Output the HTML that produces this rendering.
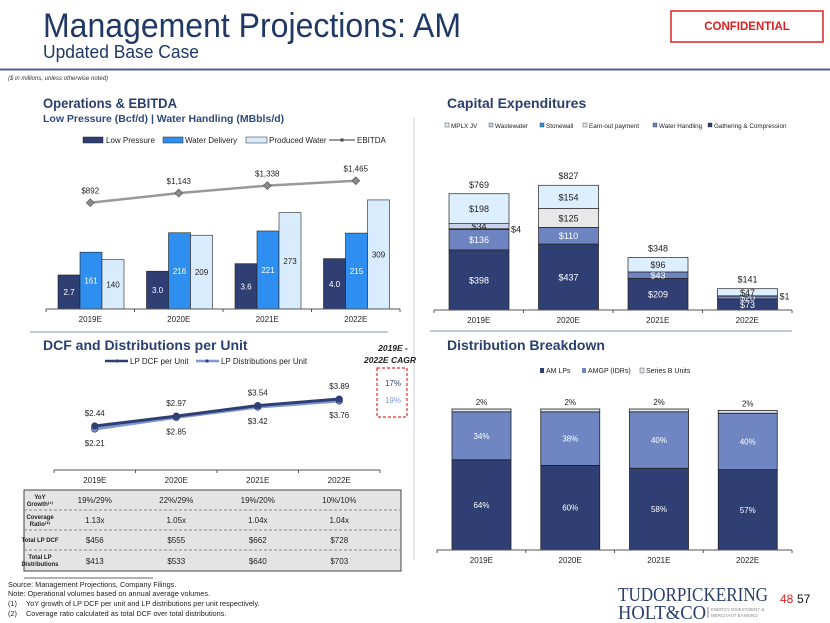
<!DOCTYPE html>
<html><head><meta charset="utf-8">
<style>
html,body{margin:0;padding:0;background:#fff;}
svg{display:block;font-family:"Liberation Sans","DejaVu Sans",sans-serif;}
</style></head>
<body>
<svg id="s" width="830" height="623" viewBox="0 0 830 623" xmlns="http://www.w3.org/2000/svg">
<text x="43" y="37" font-size="34" fill="#1f3864" textLength="418" lengthAdjust="spacingAndGlyphs">Management Projections: AM</text>
<text x="43" y="58" font-size="18" fill="#1f3864" textLength="156" lengthAdjust="spacingAndGlyphs">Updated Base Case</text>
<rect x="671" y="11" width="152" height="31" fill="#fff" stroke="#e02020" stroke-width="1.5"/>
<text x="747" y="30" font-size="11.5" font-weight="bold" fill="#e02020" text-anchor="middle">CONFIDENTIAL</text>
<line x1="0" y1="69.5" x2="830" y2="69.5" stroke="#4f5f8f" stroke-width="2"/>
<text x="8" y="80" font-size="6" font-style="italic" fill="#333">($ in millions, unless otherwise noted)</text>

<text x="43" y="108" font-size="14" font-weight="bold" fill="#2a3f6e" textLength="134" lengthAdjust="spacingAndGlyphs">Operations &amp; EBITDA</text>
<text x="43" y="122" font-size="10.5" font-weight="bold" fill="#2e4a7a">Low Pressure (Bcf/d) | Water Handling (MBbls/d)</text>
<text x="447" y="108" font-size="14" font-weight="bold" fill="#2a3f6e">Capital Expenditures</text>
<text x="43" y="350" font-size="14" font-weight="bold" fill="#2a3f6e">DCF and Distributions per Unit</text>
<text x="447" y="350" font-size="14" font-weight="bold" fill="#2a3f6e">Distribution Breakdown</text>

<line x1="30" y1="332" x2="388" y2="332" stroke="#8a96b8" stroke-width="1"/>
<line x1="430" y1="331" x2="792" y2="331" stroke="#8a96b8" stroke-width="1"/>
<line x1="414" y1="118" x2="414" y2="560" stroke="#c8cfe0" stroke-width="1"/>

<g font-size="8" fill="#222">
<rect x="83" y="137" width="20" height="6" fill="#2f3f73" stroke="#222" stroke-width="0.5"/><text x="106" y="143">Low Pressure</text>
<rect x="163" y="137" width="20" height="6" fill="#2e8ff0" stroke="#222" stroke-width="0.5"/><text x="185" y="143">Water Delivery</text>
<rect x="246" y="137" width="21" height="6" fill="#d9ecfd" stroke="#222" stroke-width="0.5"/><text x="269" y="143">Produced Water</text>
<line x1="329" y1="140" x2="355" y2="140" stroke="#999" stroke-width="2"/><circle cx="342" cy="140" r="1.8" fill="#555"/><text x="357" y="143">EBITDA</text>
</g>

<g font-size="6.3" fill="#222">
<rect x="445" y="123" width="4" height="4" fill="#ddeefe" stroke="#333" stroke-width="0.4"/><text x="451" y="128">MPLX JV</text>
<rect x="489" y="123" width="4" height="4" fill="#c9d4ea" stroke="#333" stroke-width="0.4"/><text x="495" y="128">Wastewater</text>
<rect x="540" y="123" width="4" height="4" fill="#2e8ff0" stroke="#333" stroke-width="0.4"/><text x="546" y="128">Stonewall</text>
<rect x="583" y="123" width="4" height="4" fill="#e8e8e8" stroke="#333" stroke-width="0.4"/><text x="589" y="128">Earn-out payment</text>
<rect x="653" y="123" width="4" height="4" fill="#6e84c0" stroke="#333" stroke-width="0.4"/><text x="659" y="128">Water Handling</text>
<rect x="708" y="123" width="4" height="4" fill="#2f3f73" stroke="#333" stroke-width="0.4"/><text x="714" y="128">Gathering &amp; Compression</text>
</g>

<g font-size="8" fill="#222">
<line x1="105" y1="361" x2="128" y2="361" stroke="#2f3f73" stroke-width="2.5"/><circle cx="117" cy="361" r="1.6" fill="#2f3f73"/><text x="130" y="364">LP DCF per Unit</text>
<line x1="196" y1="361" x2="219" y2="361" stroke="#7f98d0" stroke-width="2.5"/><circle cx="207" cy="361" r="1.6" fill="#2f3f73"/><text x="221" y="364">LP Distributions per Unit</text>
</g>
<g>
<text x="393" y="351" font-size="8.5" font-weight="bold" font-style="italic" fill="#222" text-anchor="middle">2019E -</text>
<text x="390" y="363" font-size="8.5" font-weight="bold" font-style="italic" fill="#222" text-anchor="middle">2022E CAGR</text>
<rect x="377" y="368" width="30" height="49" fill="none" stroke="#e03030" stroke-width="1.2" stroke-dasharray="3,2"/>
<text x="393" y="386" font-size="8" fill="#2f3f73" text-anchor="middle">17%</text>
<text x="393" y="403" font-size="8" fill="#7f98d0" text-anchor="middle">19%</text>
</g>

<g font-size="7" fill="#222">
<rect x="540" y="368" width="4" height="5" fill="#2f3f73"/><text x="546" y="373">AM LPs</text>
<rect x="582" y="368" width="4" height="5" fill="#6f86c2"/><text x="588" y="373">AMGP (IDRs)</text>
<rect x="640" y="368" width="4" height="5" fill="#e0e4ee" stroke="#333" stroke-width="0.4"/><text x="646" y="373">Series B Units</text>
</g>

<g font-size="8" fill="#222">
<rect x="24" y="490" width="377" height="81" fill="#e4e4e4" stroke="#444" stroke-width="1"/>
<line x1="24" y1="510" x2="401" y2="510" stroke="#888" stroke-dasharray="3,2"/>
<line x1="24" y1="530" x2="401" y2="530" stroke="#888" stroke-dasharray="3,2"/>
<line x1="24" y1="550" x2="401" y2="550" stroke="#888" stroke-dasharray="3,2"/>
<g font-size="6" font-weight="bold" text-anchor="middle">
<text x="40" y="499">YoY</text><text x="40" y="506">Growth⁽¹⁾</text>
<text x="40" y="519">Coverage</text><text x="40" y="526">Ratio⁽²⁾</text>
<text x="40" y="542">Total LP DCF</text>
<text x="40" y="559">Total LP</text><text x="40" y="566">Distributions</text>
</g>
</g>
<g id="tbl" font-size="8" fill="#222" text-anchor="middle"></g>

<line x1="24" y1="578" x2="153" y2="578" stroke="#333" stroke-width="0.8"/>
<g font-size="7.3" fill="#222">
<text x="8" y="587">Source: Management Projections, Company Filings.</text>
<text x="8" y="596">Note: Operational volumes based on annual average volumes.</text>
<text x="8" y="606">(1)</text><text x="26" y="606">YoY growth of LP DCF per unit and LP distributions per unit respectively.</text>
<text x="8" y="616">(2)</text><text x="26" y="616">Coverage ratio calculated as total DCF over total distributions.</text>
</g>

<g font-family="Liberation Serif,serif" fill="#2a3f6e">
<text x="618" y="601" font-size="20" textLength="150" lengthAdjust="spacingAndGlyphs">TUDORPICKERING</text>
<text x="618" y="619" font-size="20" textLength="88" lengthAdjust="spacingAndGlyphs">HOLT&amp;CO</text>
<line x1="708" y1="607" x2="708" y2="618" stroke="#888"/>
<text x="711" y="611" font-size="4.5" fill="#888" font-family="Liberation Sans,sans-serif">ENERGY INVESTMENT &amp;</text>
<text x="711" y="617" font-size="4.5" fill="#888" font-family="Liberation Sans,sans-serif">MERCHANT BANKING</text>
</g>
<text x="780" y="603" font-size="12" fill="#e02020">48</text>
<text x="797" y="603" font-size="12" fill="#111">57</text>

<g id="ops"></g><g id="capex"></g><g id="dcf"></g><g id="dist"></g>
</svg>
<script>
const NS="http://www.w3.org/2000/svg";
const categories=["2019E","2020E","2021E","2022E"];
const lowPressure=[2.7,3.0,3.6,4.0];
const waterDelivery=[161,216,221,215];
const producedWater=[140,209,273,309];
const ebitda=[892,1143,1338,1465];
const ebitdaLabels=["$892","$1,143","$1,338","$1,465"];
const capexGathering=[398,437,209,73];
const capexWaterHandling=[136,110,43,20];
const capexEarnout=[0,125,0,0];
const capexStonewall=[4,0,0,1];
const capexWastewater=[34,0,0,0];
const capexMplx=[198,154,96,47];
const capexTotals=[769,827,348,141];
const dcfPerUnit=[2.44,2.97,3.54,3.89];
const distPerUnit=[2.21,2.85,3.42,3.76];
const distLP=[64,60,58,57];
const distAMGP=[34,38,40,40];
const distSeriesB=[2,2,2,2];
const tblGrowth=["19%/29%","22%/29%","19%/20%","10%/10%"];
const tblCoverage=["1.13x","1.05x","1.04x","1.04x"];
const tblDCF=["$456","$555","$662","$728"];
const tblDist=["$413","$533","$640","$703"];

function mk(tag,attrs,parent,txt){const e=document.createElementNS(NS,tag);for(const k in attrs)e.setAttribute(k,attrs[k]);if(txt!==undefined)e.textContent=txt;parent.appendChild(e);return e;}
function axis(g,x0,x1,y,n){
  const a=mk('line',{x1:x0,x2:x1,y1:y,y2:y,stroke:'#555','stroke-width':1},g);
  
  
  const w=(x1-x0)/n;
  for(let i=0;i<=n;i++){mk('line',{x1:x0+i*w,x2:x0+i*w,y1:y,y2:y+3,stroke:'#555'},g);}
  categories.forEach((c,i)=>{const t=mk('text',{x:x0+(i+.5)*w,y:y+13,'font-size':8,'text-anchor':'middle',fill:'#222'},g,c);
    
    });
}
function lbl(g,x,y,s,fill,size){const t=mk('text',{x:x,y:y,'font-size':size||8,'text-anchor':'middle',fill:fill},g,s);
  
  return t;}

(function(){
  const g=document.getElementById('ops');
  const x0=46,x1=400,base=309,cw=(x1-x0)/4;
  const xCat=i=>x0+i*cw;
  const yLP=v=>base-v*12.6, yW=v=>base-v*0.353, yE=v=>237-v*0.0384;
  const series=[[lowPressure,'#2f3f73',yLP,'#fff',v=>v.toFixed(1)],[waterDelivery,'#2e8ff0',yW,'#fff',v=>v],[producedWater,'#d9ecfd',yW,'#222',v=>v]];
  series.forEach((s,k)=>{s[0].forEach((v,i)=>{
    const x=xCat(i)+12+k*22,y=s[2](v);
    const r=mk('rect',{x:x,y:y,width:22,height:base-y,fill:s[1],stroke:'#222','stroke-width':0.6},g);
    
    
    lbl(g,x+11,(y+base)/2+3,s[4](v),s[3],8);
  });});
  const pts=ebitda.map((v,i)=>[xCat(i)+cw/2,yE(v)]);
  const pl=mk('polyline',{points:pts.map(p=>p.join(',')).join(' '),fill:'none',stroke:'#999','stroke-width':2.5},g);
  
  
  pts.forEach((p,i)=>{const d=mk('polygon',{points:`${p[0]},${p[1]-4} ${p[0]+4},${p[1]} ${p[0]},${p[1]+4} ${p[0]-4},${p[1]}`,fill:'#8a8a8a',stroke:'#555','stroke-width':0.6},g);
    
    
    lbl(g,p[0],p[1]-9,ebitdaLabels[i],'#222',8);});
  axis(g,x0,x1,base,4);
})();

(function(){
  const g=document.getElementById('capex');
  const x0=434,x1=792,base=310,cw=(x1-x0)/4;
  const y=v=>base-v*0.151;
  const stack=[[capexGathering,'#2f3f73','#fff'],[capexWaterHandling,'#6e84c0','#fff'],[capexEarnout,'#e8e8e8','#222'],[capexStonewall,'#2e8ff0','#222'],[capexWastewater,'#c9d4ea','#222'],[capexMplx,'#ddeefe','#222']];
  categories.forEach((c,i)=>{
    let cum=0;const bx=x0+i*cw+15;
    stack.forEach(s=>{const v=s[0][i];if(!v)return;
      const yt=y(cum+v),yb=y(cum);
      const r=mk('rect',{x:bx,y:yt,width:60,height:yb-yt,fill:s[1],stroke:'#222','stroke-width':0.7},g);
      
      
      if(v>=10)lbl(g,bx+30,(yt+yb)/2+3.5,'$'+v,s[2],9);
      else lbl(g,bx+67,(yt+yb)/2+3.5,'$'+v,'#222',9);
      cum+=v;});
    lbl(g,bx+30,y(capexTotals[i])-6,'$'+capexTotals[i],'#222',9);
  });
  axis(g,x0,x1,base,4);
})();

(function(){
  const g=document.getElementById('dcf');
  const x0=54,x1=380,base=470,cw=(x1-x0)/4;
  const xc=i=>x0+(i+.5)*cw;
  const yD=v=>471.4-v*18.6, yS=v=>469-v*18.1;
  [[distPerUnit,'#7f98d0',yS,1],[dcfPerUnit,'#2f3f73',yD,-1]].forEach(s=>{
    const pts=s[0].map((v,i)=>[xc(i),s[2](v)]);
    const pl=mk('polyline',{points:pts.map(p=>p.join(',')).join(' '),fill:'none',stroke:s[1],'stroke-width':3},g);
    
    
    pts.forEach((p,i)=>{const c=mk('circle',{cx:p[0],cy:p[1],r:3.2,fill:s[1],stroke:'#2f3f73','stroke-width':0.8},g);
      
      
      lbl(g,p[0],s[3]<0?p[1]-10:p[1]+17,'$'+s[0][i].toFixed(2),'#222',8);});
  });
  axis(g,x0,x1,base,4);
  const t=document.getElementById('tbl');
  [[tblGrowth,503],[tblCoverage,523],[tblDCF,543],[tblDist,564]].forEach(r=>{
    r[0].forEach((s,i)=>{const e=mk('text',{x:xc(i),y:r[1]},t,s);
      
      });
  });
})();

(function(){
  const g=document.getElementById('dist');
  const x0=437,x1=792,base=550,cw=(x1-x0)/4;
  const y=v=>base-v*1.41;
  const stack=[[distLP,'#2f3f73','#fff'],[distAMGP,'#6f86c2','#fff'],[distSeriesB,'#e0e4ee','#222']];
  categories.forEach((c,i)=>{
    let cum=0;const bx=x0+i*cw+15;
    stack.forEach((s,k)=>{const v=s[0][i];
      const yt=y(cum+v),yb=y(cum);
      const r=mk('rect',{x:bx,y:yt,width:59,height:yb-yt,fill:s[1],stroke:'#222','stroke-width':0.8},g);
      
      
      if(k<2)lbl(g,bx+29.5,(yt+yb)/2+3,v+'%',s[2],8);
      else lbl(g,bx+29.5,yt-4,v+'%','#222',8);
      cum+=v;});
  });
  axis(g,x0,x1,base,4);
})();
</script>
</body></html>
